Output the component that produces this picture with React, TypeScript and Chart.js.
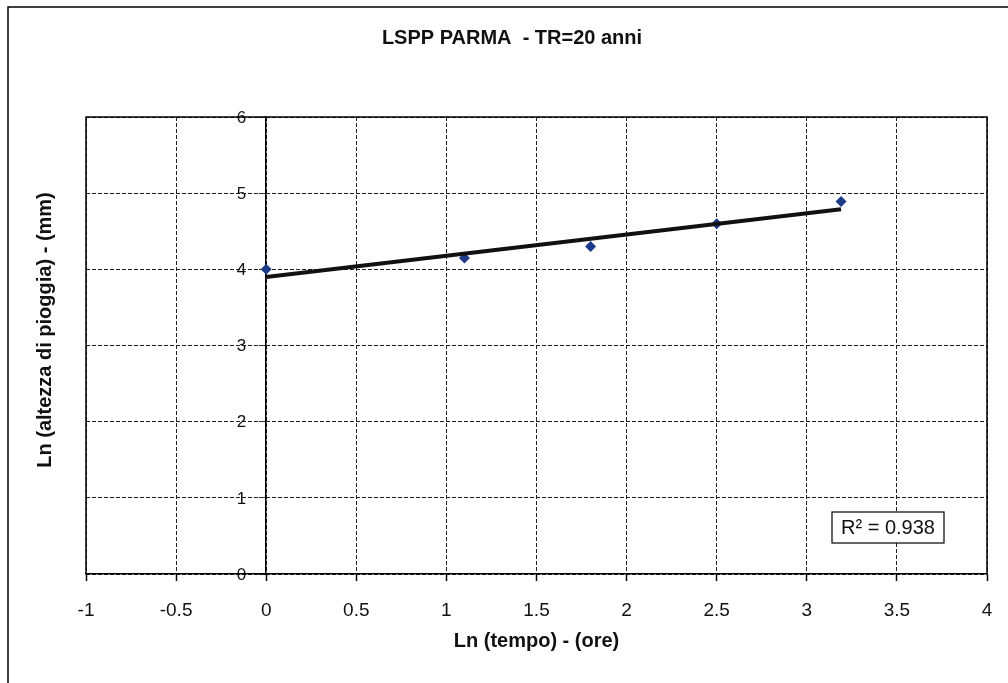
import React, { useEffect, useRef } from "react";
import { Chart, registerables } from "chart.js";

Chart.register(...registerables);

const chartTitle = "LSPP PARMA  - TR=20 anni";
const xAxisTitle = "Ln (tempo) - (ore)";
const yAxisTitle = "Ln (altezza di pioggia) - (mm)";
const lnTempo = [0, 1.1, 1.8, 2.5, 3.19];
const lnAltezza = [4.0, 4.15, 4.3, 4.6, 4.89];
const trendX = [0, 3.19];
const trendY = [3.9, 4.79];
const rSquaredLabel = "R² = 0.938";
const xRange = [-1, 4];
const yRange = [0, 6];

const FONT = 'Arial, "Liberation Sans", sans-serif';

const framePlugin = {
  id: "framePlugin",
  beforeDatasetsDraw(chart: any) {
    const { ctx, chartArea } = chart;
    ctx.save();
    ctx.strokeStyle = "#000";
    ctx.lineWidth = 1.5;
    ctx.setLineDash([]);
    ctx.beginPath();
    ctx.moveTo(chartArea.left, chartArea.bottom);
    ctx.lineTo(chartArea.left, chartArea.top);
    ctx.lineTo(chartArea.right, chartArea.top);
    ctx.lineTo(chartArea.right, chartArea.bottom);
    ctx.stroke();
    ctx.restore();
  },
  afterDraw(chart: any) {
    const { ctx, chartArea } = chart;
    ctx.save();
    // outer chart frame
    ctx.strokeStyle = "#000";
    ctx.lineWidth = 1.5;
    ctx.beginPath();
    ctx.moveTo(8, chart.height + 2);
    ctx.lineTo(8, 7);
    ctx.lineTo(chart.width + 2, 7);
    ctx.stroke();
    // y tick labels, placed beside the y axis that crosses at x = 0
    const ys = chart.scales.y;
    const x0 = chart.scales.x.getPixelForValue(0);
    ctx.fillStyle = "#111";
    ctx.font = `17px ${FONT}`;
    ctx.textAlign = "right";
    ctx.textBaseline = "middle";
    ys.ticks.forEach((t: any) => {
      ctx.fillText(String(t.value), x0 - 20, ys.getPixelForValue(t.value) + 1);
    });
    // y axis title
    ctx.font = `bold 20px ${FONT}`;
    ctx.textAlign = "center";
    ctx.translate(45, 330);
    ctx.rotate(-Math.PI / 2);
    ctx.fillText(yAxisTitle, 0, 0);
    ctx.restore();
    // R² label box
    ctx.save();
    const bw = 112;
    const bh = 31;
    const bx = chartArea.right - 43 - bw;
    const by = chartArea.bottom - 31 - bh;
    ctx.fillStyle = "#fff";
    ctx.fillRect(bx, by, bw, bh);
    ctx.strokeStyle = "#000";
    ctx.lineWidth = 1.2;
    ctx.strokeRect(bx, by, bw, bh);
    ctx.fillStyle = "#111";
    ctx.font = `20px ${FONT}`;
    ctx.textAlign = "center";
    ctx.textBaseline = "middle";
    ctx.fillText(rSquaredLabel, bx + bw / 2, by + bh / 2 + 1);
    ctx.restore();
  },
};

export default function App() {
  const ref = useRef<HTMLCanvasElement | null>(null);
  useEffect(() => {
    if (!ref.current) return;
    const chart = new Chart(ref.current, {
      type: "scatter",
      data: {
        datasets: [
          {
            label: "dati",
            data: lnTempo.map((x, i) => ({ x, y: lnAltezza[i] })),
            pointStyle: "rectRot",
            pointRadius: 5.5,
            backgroundColor: "#1c3a87",
            borderColor: "#1c3a87",
            borderWidth: 0,
            order: 2,
          },
          {
            label: "trend",
            type: "line",
            data: trendX.map((x, i) => ({ x, y: trendY[i] })),
            borderColor: "#111",
            borderWidth: 4,
            pointRadius: 0,
            showLine: true,
            fill: false,
            order: 1,
          } as any,
        ],
      },
      options: {
        responsive: false,
        animation: false,
        layout: { padding: { left: 37, right: 21, top: 0, bottom: 0 } },
        plugins: {
          legend: { display: false },
          tooltip: { enabled: false },
          title: {
            display: true,
            text: chartTitle,
            color: "#111",
            font: { family: FONT, size: 20, weight: "bold", lineHeight: 1.2 },
            padding: { top: 26, bottom: 67 },
          },
        },
        scales: {
          x: {
            type: "linear",
            position: "bottom",
            min: xRange[0],
            max: xRange[1],
            ticks: {
              stepSize: 0.5,
              color: "#111",
              font: { family: FONT, size: 19 },
              padding: 18,
              maxRotation: 0,
              callback: (v: any) => String(Number(v)),
            },
            grid: {
              color: "#222",
              lineWidth: 1,
              tickLength: 7,
              tickColor: "#000",
              tickWidth: 1.5,
            },
            border: { display: true, color: "#000", width: 1.5, dash: [4, 2] },
            title: {
              display: true,
              text: xAxisTitle,
              color: "#111",
              font: { family: FONT, size: 20, weight: "bold", lineHeight: 1.2 },
              padding: { top: 0, bottom: 30 },
            },
            afterFit(scale: any) {
              scale.height = 109;
              scale.paddingLeft = 0;
              scale.paddingRight = 0;
            },
          },
          ySpace: {
            type: "linear",
            position: "left",
            min: yRange[0],
            max: yRange[1],
            display: true,
            ticks: { display: false },
            grid: { display: false, drawTicks: false },
            border: { display: false },
            afterFit(scale: any) {
              scale.width = 49;
              scale.paddingTop = 0;
              scale.paddingBottom = 0;
            },
          },
          y: {
            type: "linear",
            position: { x: 0 } as any,
            min: yRange[0],
            max: yRange[1],
            ticks: {
              stepSize: 1,
              display: false,
            },
            grid: {
              color: "#222",
              lineWidth: 1,
              tickLength: 6,
              tickColor: "#333",
            },
            border: { display: true, color: "#000", width: 1.5, dash: [4, 2] },
          },
        },
      },
      plugins: [framePlugin],
    });
    return () => chart.destroy();
  }, []);
  return (
    <div style={{ position: "fixed", left: 0, top: 0, width: 1008, height: 683, background: "#fff" }}>
      <canvas ref={ref} width={1008} height={683} style={{ display: "block" }} />
    </div>
  );
}
